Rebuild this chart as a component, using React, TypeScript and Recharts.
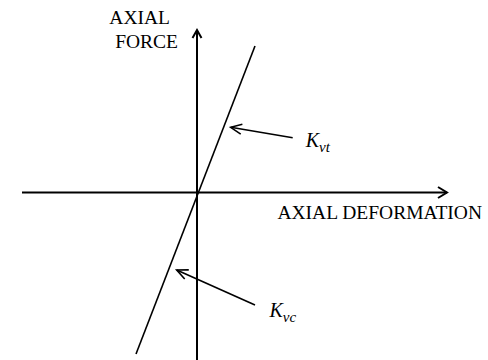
import React from 'react';
import { ComposedChart, Line, XAxis, YAxis, ReferenceLine, ReferenceDot } from 'recharts';

// Units: offsets from the origin of the force–deformation diagram
const stiffnessLine = [
  { deformation: -61, force: -161.5 },
  { deformation: 58, force: 146.5 },
];
const deformationAxis = [-175, 250];
const forceAxis = [-167.5, 162.5];
const domainX = [-197, 291];
const domainY = [-167.5, 192.5];

const annotationNames = ['vt', 'vc'];
const annotationTails = [
  { x: 95.7, y: 54.8 },
  { x: 58, y: -112.5 },
];
const annotationTips = [
  { x: 33.7, y: 65.2 },
  { x: -20.3, y: -77.5 },
];
const annotationLabels = [
  { x: 108.7, y: 45.8 },
  { x: 72.5, y: -124.2 },
];

const axisTitles = [
  { text: 'AXIAL', x: -27, y: 169, anchor: 'end' },
  { text: 'FORCE', x: -19, y: 145, anchor: 'end' },
  { text: 'AXIAL DEFORMATION', x: 285, y: -26.5, anchor: 'end' },
];

const FONT = '"Liberation Serif", "Times New Roman", serif';

const arrowShape = (len: number, half: number, width: number) => (p: any) => {
  const { x1, y1, x2, y2 } = p;
  const ang = Math.atan2(y2 - y1, x2 - x1);
  const bx = x2 - len * Math.cos(ang);
  const by = y2 - len * Math.sin(ang);
  const nx = -Math.sin(ang) * half;
  const ny = Math.cos(ang) * half;
  return (
    <g>
      <line x1={x1} y1={y1} x2={x2} y2={y2} stroke="#000" strokeWidth={width} />
      <path
        d={`M${bx + nx},${by + ny} L${x2},${y2} L${bx - nx},${by - ny}`}
        fill="none"
        stroke="#000"
        strokeWidth={width}
      />
    </g>
  );
};

const textShape = (text: string, anchor: string) => (p: any) => (
  <text x={p.cx} y={p.cy} textAnchor={anchor} fontFamily={FONT} fontSize={19.5} fill="#000">
    {text}
  </text>
);

const kShape = (sub: string) => (p: any) => (
  <text x={p.cx} y={p.cy} fontFamily={FONT} fontStyle="italic" fill="#000">
    <tspan fontSize={20}>K</tspan>
    <tspan fontSize={15} dy={5}>{sub}</tspan>
  </text>
);

export default function App() {
  return (
    <div style={{ position: 'absolute', left: 0, top: 0, background: '#fff' }}>
      <ComposedChart
        width={488}
        height={360}
        data={stiffnessLine}
        margin={{ top: 0, right: 0, bottom: 0, left: 0 }}
      >
        <XAxis type="number" dataKey="deformation" domain={domainX} allowDataOverflow hide />
        <YAxis type="number" dataKey="force" domain={domainY} allowDataOverflow hide />
        <ReferenceLine
          segment={[
            { x: deformationAxis[0], y: 0 },
            { x: deformationAxis[1], y: 0 },
          ]}
          shape={arrowShape(9, 5.5, 2)}
          ifOverflow="visible"
        />
        <ReferenceLine
          segment={[
            { x: 0, y: forceAxis[0] },
            { x: 0, y: forceAxis[1] },
          ]}
          shape={arrowShape(8, 4.5, 2)}
          ifOverflow="visible"
        />
        <Line
          type="linear"
          dataKey="force"
          stroke="#000"
          strokeWidth={1.6}
          dot={false}
          activeDot={false}
          isAnimationActive={false}
        />
        {annotationNames.map((n, i) => (
          <ReferenceLine
            key={'a' + n}
            segment={[annotationTails[i], annotationTips[i]]}
            shape={arrowShape(11, 5, 1.6)}
            ifOverflow="visible"
          />
        ))}
        {annotationNames.map((n, i) => (
          <ReferenceDot
            key={'k' + n}
            x={annotationLabels[i].x}
            y={annotationLabels[i].y}
            r={0}
            shape={kShape(n)}
            ifOverflow="visible"
          />
        ))}
        {axisTitles.map((t) => (
          <ReferenceDot
            key={t.text}
            x={t.x}
            y={t.y}
            r={0}
            shape={textShape(t.text, t.anchor)}
            ifOverflow="visible"
          />
        ))}
      </ComposedChart>
    </div>
  );
}
